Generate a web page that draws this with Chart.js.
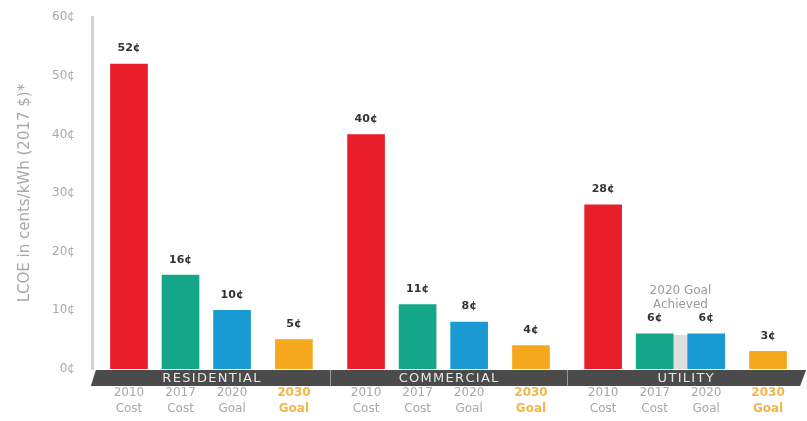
<!DOCTYPE html>
<html lang="en">
<head>
  <meta charset="UTF-8">
  <script src="https://cdn.jsdelivr.net/npm/chart.js"></script>
  <title>LCOE</title>
  <style>
    html, body { margin: 0; padding: 0; background: #fff; }
    #wrap { width: 807px; height: 421px; }
  </style>
</head>
<body>
<div id="wrap"><canvas id="lcoe"></canvas></div>
<script>
  // data
  const groups = ['RESIDENTIAL', 'COMMERCIAL', 'UTILITY'];
  const barLabels = [['2010', 'Cost'], ['2017', 'Cost'], ['2020', 'Goal'], ['2030', 'Goal']];
  const residential = [52, 16, 10, 5];
  const commercial = [40, 11, 8, 4];
  const utility = [28, 6, 6, 3];
  const yTicks = [0, 10, 20, 30, 40, 50, 60];
  const barColors = ['#e81f2b', '#14a689', '#1a9ad2', '#f6a81d'];

  // spacing of bars in blank slots (layout only)
  const leadSlots = 3, innerGaps = [5, 5, 6], groupGap = 7, tailSlots = 3;

  const series = [residential, commercial, utility];
  const labels = [], values = [], colors = [], slotInfo = [];
  function blank(n) {
    for (let i = 0; i < n; i++) { labels.push(''); values.push(null); colors.push('transparent'); slotInfo.push(null); }
  }
  blank(leadSlots);
  series.forEach((vals, g) => {
    vals.forEach((v, i) => {
      labels.push(barLabels[i]);
      values.push(v);
      colors.push(barColors[i]);
      slotInfo.push({ group: g, bar: i });
      if (i < vals.length - 1) blank(innerGaps[i] - 1);
    });
    if (g < series.length - 1) blank(groupGap - 1);
  });
  blank(tailSlots);

  const FONT = "'DejaVu Sans', sans-serif";

  const decor = {
    id: 'decor',
    beforeDatasetsDraw(chart) {
      // light gray backdrop between the utility 2017/2020 bars
      const meta = chart.getDatasetMeta(0);
      const y = chart.scales.y;
      const idx = slotInfo.map((s, i) => s && s.group === 2 && s.bar < 3 ? i : -1).filter(i => i >= 0);
      const a = meta.data[idx[1]], b = meta.data[idx[2]];
      const ctx = chart.ctx;
      ctx.save();
      ctx.fillStyle = '#dedede';
      ctx.fillRect(a.x, y.getPixelForValue(5.8), b.x - a.x, y.getPixelForValue(0) - y.getPixelForValue(5.8));
      ctx.restore();
    },
    afterDatasetsDraw(chart) {
      const ctx = chart.ctx;
      const meta = chart.getDatasetMeta(0);
      const area = chart.chartArea;
      ctx.save();

      // value labels
      ctx.font = 'bold 11px ' + FONT;
      ctx.fillStyle = '#333';
      ctx.textAlign = 'center';
      ctx.textBaseline = 'bottom';
      meta.data.forEach((el, i) => {
        if (values[i] == null) return;
        ctx.fillText(values[i] + '¢', el.x, el.y - 10);
      });

      // "2020 Goal Achieved" note
      const ut = slotInfo.map((s, i) => s && s.group === 2 ? i : -1).filter(i => i >= 0);
      const mx = (meta.data[ut[1]].x + meta.data[ut[2]].x) / 2;
      ctx.font = '12px ' + FONT;
      ctx.fillStyle = '#9a9a9a';
      ctx.textBaseline = 'middle';
      ctx.fillText('2020 Goal', mx, 291);
      ctx.fillText('Achieved', mx, 305);

      // dark band under the bars
      const top = area.bottom + 1, bot = area.bottom + 17;
      ctx.fillStyle = '#4b4b4b';
      ctx.beginPath();
      ctx.moveTo(area.left + 3, top);
      ctx.lineTo(area.right + 2, top);
      ctx.lineTo(area.right - 4, bot);
      ctx.lineTo(area.left - 2, bot);
      ctx.closePath();
      ctx.fill();

      // group names and separators
      const centers = groups.map((g, gi) => {
        const ids = slotInfo.map((s, i) => s && s.group === gi ? i : -1).filter(i => i >= 0);
        return { first: meta.data[ids[0]].x, last: meta.data[ids[ids.length - 1]].x };
      });
      ctx.font = '13px ' + FONT;
      ctx.fillStyle = '#e6e6e6';
      ctx.textBaseline = 'middle';
      centers.forEach((c, gi) => {
        ctx.fillText(groups[gi].split('').join(String.fromCharCode(8202)), (c.first + c.last) / 2, (top + bot) / 2 + 1);
        if (gi > 0) {
          const sx = Math.round((centers[gi - 1].last + c.first) / 2) + 0.5;
          ctx.strokeStyle = '#9a9a9a';
          ctx.lineWidth = 1;
          ctx.beginPath();
          ctx.moveTo(sx, top);
          ctx.lineTo(sx, bot);
          ctx.stroke();
        }
      });
      ctx.restore();
    }
  };

  new Chart(document.getElementById('lcoe'), {
    type: 'bar',
    data: {
      labels: labels,
      datasets: [{
        data: values,
        backgroundColor: colors,
        barThickness: 37,
        borderWidth: 0
      }]
    },
    options: {
      responsive: true,
      maintainAspectRatio: false,
      animation: false,
      layout: { padding: { top: 8, right: 2, left: 12, bottom: 0 } },
      plugins: {
        legend: { display: false },
        tooltip: { enabled: false }
      },
      scales: {
        x: {
          grid: { display: false },
          border: { display: false },
          afterFit: axis => { axis.height = 52; },
          ticks: {
            autoSkip: false,
            maxRotation: 0,
            padding: 8,
            font: ctx => {
              const s = slotInfo[ctx.index];
              return { family: FONT, size: 12, weight: s && s.bar === 3 ? 'bold' : 'normal', lineHeight: 1.35 };
            },
            color: ctx => {
              const s = slotInfo[ctx.index];
              return s && s.bar === 3 ? '#f4b54a' : '#a8a8a8';
            }
          }
        },
        y: {
          min: 0,
          max: 60,
          afterBuildTicks: axis => { axis.ticks = yTicks.map(v => ({ value: v })); },
          grid: { display: false },
          border: { display: true, color: '#d2d2d2', width: 3 },
          title: {
            display: true,
            text: 'LCOE in cents/kWh (2017 $)*',
            color: '#a8a8a8',
            font: { family: FONT, size: 15 },
            padding: { bottom: 8 }
          },
          ticks: {
            padding: 10,
            color: '#a8a8a8',
            font: { family: FONT, size: 12 },
            callback: v => v + '¢'
          }
        }
      }
    },
    plugins: [decor]
  });
</script>
</body>
</html>
